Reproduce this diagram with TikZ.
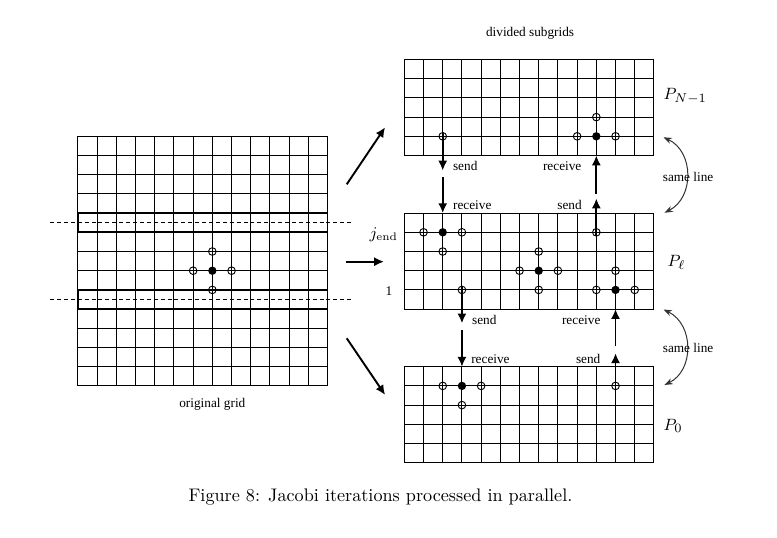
\documentclass[tikz,border=0pt]{standalone}
\usepackage{fontspec}
\usepackage{amsmath}
\usetikzlibrary{arrows.meta,positioning}
\newfontfamily\lblfont{Liberation Serif}

\begin{document}
\begin{tikzpicture}[x=10.56pt,y=10.56pt,>={Latex[length=5.4pt,width=5pt]},
    font=\lblfont\fontsize{7.3}{9}\selectfont]
    \tikzset{
        gridline/.style={line width=0.6pt,step=1},
        ghost/.style={line width=1pt},
        cut/.style={line width=0.6pt,dash pattern=on 2.2pt off 1.6pt},
        open/.style={circle,draw,line width=0.5pt,inner sep=0pt,minimum size=4.2pt},
        dot/.style={circle,fill,inner sep=0pt,minimum size=4.6pt},
        msg/.style={->,line width=1pt,shorten <=-2pt},
        split/.style={->,line width=1.05pt},
        same/.style={{Stealth[length=4.6pt,width=3.4pt]}-{Stealth[length=4.6pt,width=3.4pt]},line width=0.55pt,black!80},
        lbl/.style={inner sep=0pt},
        proc/.style={inner sep=0pt,font=\fontsize{9.5}{11}\selectfont}
    }
    \useasboundingbox (-21.06,-3.92) rectangle (19.41,24.1);

    % original grid
    \draw[gridline] (-17,4) grid (-4,17);
    \draw[ghost] (-17,12) rectangle (-4,13);
    \draw[ghost] (-17,8) rectangle (-4,9);
    \draw[cut] (-18.45,12.5) -- (-2.65,12.5);
    \draw[cut] (-18.45,8.5) -- (-2.65,8.5);
    \node[dot]  (lc) at (-10,10) {};
    \node[open] (lw) at (-11,10) {};
    \node[open] (le) at (-9,10)  {};
    \node[open] (ln) at (-10,11) {};
    \node[open] (ls) at (-10,9)  {};
    \node[lbl,anchor=base] (orig) at (-10,2.88) {original grid};

    % subgrids
    \draw[gridline] (0,16) grid (13,21);
    \draw[gridline] (0,8) grid (13,13);
    \draw[gridline] (0,0) grid (13,5);
    \node[lbl,anchor=base] (div) at (6.55,22.19) {divided subgrids};

    % P_{N-1}
    \node[open] (t1) at (2,17)  {};
    \node[dot]  (tc) at (10,17) {};
    \node[open] (tw) at (9,17)  {};
    \node[open] (te) at (11,17) {};
    \node[open] (tn) at (10,18) {};

    % P_l
    \node[dot]  (mj)  at (2,12)  {};
    \node[open] (mjw) at (1,12)  {};
    \node[open] (mje) at (3,12)  {};
    \node[open] (mjs) at (2,11)  {};
    \node[open] (m1)  at (3,9)   {};
    \node[dot]  (mc)  at (7,10)  {};
    \node[open] (mcw) at (6,10)  {};
    \node[open] (mce) at (8,10)  {};
    \node[open] (mcn) at (7,11)  {};
    \node[open] (mcs) at (7,9)   {};
    \node[open] (mr)  at (10,12) {};
    \node[dot]  (mb)  at (11,9)  {};
    \node[open] (mbw) at (10,9)  {};
    \node[open] (mbe) at (12,9)  {};
    \node[open] (mbn) at (11,10) {};

    % P_0
    \node[dot]  (bc) at (3,4)  {};
    \node[open] (bw) at (2,4)  {};
    \node[open] (be) at (4,4)  {};
    \node[open] (bs) at (3,3)  {};
    \node[open] (b1) at (11,4) {};

    \node[proc,anchor=base west] (ptop) at (13.49,18.93) {$P_{N-1}$};
    \node[proc,anchor=base west] (pmid) at (13.7,10.21)  {$P_\ell$};
    \node[proc,anchor=base west] (pbot) at (13.49,1.70)  {$P_0$};
    \node[proc,anchor=base east,font=\fontsize{9}{11}\selectfont] (jend) at (-0.31,11.69) {$j_{\text{end}}$};
    \node[lbl,anchor=base] (jone) at (-0.8,8.73) {1};

    % messages
    \coordinate (r1a) at (2,14.69);  \coordinate (r1b) at (2,13);
    \coordinate (s1b) at (2,15.22);
    \coordinate (s2b) at (10,13.76);
    \coordinate (r2a) at (10,14.2);  \coordinate (r2b) at (10,16);
    \coordinate (s3b) at (3,7.26);
    \coordinate (r3a) at (3,6.74);   \coordinate (r3b) at (3,5);
    \coordinate (s4b) at (11,5.7);
    \coordinate (r4a) at (11,6.25);  \coordinate (r4b) at (11,8);

    \draw[msg] (t1.center) -- (s1b);
    \draw[msg] (r1a) -- (r1b);
    \draw[msg] (mr.center) -- (s2b);
    \draw[msg] (r2a) -- (r2b);
    \draw[msg] (m1.center) -- (s3b);
    \draw[msg] (r3a) -- (r3b);
    \draw[msg] (b1.center) -- (s4b);
    \draw[msg] (r4a) -- (r4b);

    \node[lbl,anchor=base west] (l1) at (2.52,15.21) {send};
    \node[lbl,anchor=base east] (l2) at (9.24,15.21) {receive};
    \node[lbl,anchor=base west] (l3) at (2.52,13.21) {receive};
    \node[lbl,anchor=base east] (l4) at (9.26,13.21) {send};
    \node[lbl,anchor=base west] (l5) at (3.51,7.22)  {send};
    \node[lbl,anchor=base east] (l6) at (10.23,7.22) {receive};
    \node[lbl,anchor=base west] (l7) at (3.47,5.18)  {receive};
    \node[lbl,anchor=base east] (l8) at (10.23,5.18) {send};

    % same line
    \coordinate (c1) at (13.5,16.95); \coordinate (c2) at (13.55,13.02);
    \coordinate (c3) at (13.5,7.98);  \coordinate (c4) at (13.55,4.05);
    \draw[same] (c1) .. controls (15.1,16.2) and (15.1,13.8) .. (c2);
    \draw[same] (c3) .. controls (15.1,7.2) and (15.1,4.8) .. (c4);
    \node[lbl,anchor=base] (sl1) at (14.78,14.67) {same line};
    \node[lbl,anchor=base] (sl2) at (14.78,5.73)  {same line};

    % split
    \coordinate (a0) at (-3,14.5);    \coordinate (a1) at (-1,17.47);
    \coordinate (b0) at (-3.04,10.47); \coordinate (b1e) at (-1.06,10.47);
    \coordinate (d0) at (-3,6.48);    \coordinate (d1) at (-1,3.53);
    \draw[split] (a0) -- (a1);
    \draw[split] (b0) -- (b1e);
    \draw[split] (d0) -- (d1);

    \node[anchor=base,inner sep=0pt,font=\rmfamily\fontsize{10}{12}\selectfont] (cap) at (-1.24,-2.03)
        {Figure 8: Jacobi iterations processed in parallel.};
\end{tikzpicture}
\end{document}
